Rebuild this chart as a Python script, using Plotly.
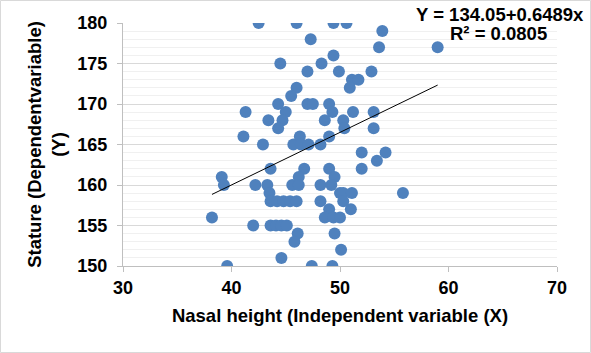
import plotly.graph_objects as go

# Nasal height (X) and stature (Y)
nasal = [42.5, 46.0, 49.4, 50.6,
         53.9,
         47.3,
         53.6, 59.0,
         49.4,
         44.5, 48.3,
         47.0, 49.9, 52.9,
         51.1, 51.7,
         46.0, 50.9,
         45.5,
         44.3, 47.0, 47.5, 49.0,
         41.3, 45.0, 49.3, 51.2, 53.1,
         43.4, 44.7, 48.6, 50.3,
         44.3, 50.4, 53.1,
         41.1, 46.3, 49.0,
         42.9, 45.7, 46.4, 47.1, 48.2,
         52.0, 54.2,
         53.4,
         43.6, 46.7, 49.0, 52.0,
         39.1, 46.2, 49.5,
         39.3, 42.2, 43.3, 45.6, 46.2, 48.2, 49.2,
         43.5, 50.0, 50.3, 51.1, 55.8,
         43.6, 44.2, 44.8, 45.4, 46.0, 48.2, 50.3,
         49.0, 51.0,
         38.2, 48.6, 49.4, 50.0,
         42.0, 43.6, 44.1, 44.6, 45.1,
         46.1, 49.5,
         45.8,
         50.1,
         44.6,
         39.6, 47.4, 49.3]
stature = [180, 180, 180, 180,
           179,
           178,
           177, 177,
           176,
           175, 175,
           174, 174, 174,
           173, 173,
           172, 172,
           171,
           170, 170, 170, 170,
           169, 169, 169, 169, 169,
           168, 168, 168, 168,
           167, 167, 167,
           166, 166, 166,
           165, 165, 165, 165, 165,
           164, 164,
           163,
           162, 162, 162, 162,
           161, 161, 161,
           160, 160, 160, 160, 160, 160, 160,
           159, 159, 159, 159, 159,
           158, 158, 158, 158, 158, 158, 158,
           157, 157,
           156, 156, 156, 156,
           155, 155, 155, 155, 155,
           154, 154,
           153,
           152,
           151,
           150, 150, 150]

# Trendline coefficients as printed on the chart
intercept = 134.05
slope = 0.6489
eq_text = "Y = 134.05+0.6489x"
r2_text = "R² = 0.0805"

x_title = "Nasal height (Independent variable (X)"
y_title = "Stature (Dependentvariable)<br>(Y)"

xmin, xmax = min(nasal), max(nasal)
trend_x = [xmin, xmax]
trend_y = [intercept + slope * v for v in trend_x]

fig = go.Figure()
fig.add_trace(go.Scatter(
    x=nasal, y=stature, mode="markers",
    marker=dict(color="#4F81BD", size=12, line=dict(width=0)),
    showlegend=False, hoverinfo="skip"))
fig.add_trace(go.Scatter(
    x=trend_x, y=trend_y, mode="lines",
    line=dict(color="#000000", width=1),
    showlegend=False, hoverinfo="skip"))

W, H = 591, 353
L, R, T, B = 123, 34, 23, 87
pw, ph = W - L - R, H - T - B

font_b = "Liberation Sans"
tick_size = 18
title_size = 18.5

fig.update_layout(
    width=W, height=H,
    margin=dict(l=L, r=R, t=T, b=B, pad=0),
    paper_bgcolor="white", plot_bgcolor="white",
    font=dict(family=font_b, color="#000000"),
    xaxis=dict(
        range=[30, 70], dtick=10, tick0=30,
        showgrid=False, zeroline=False,
        showline=True, linecolor="#BFBFBF", linewidth=1,
        ticks="outside", tickcolor="#BFBFBF", ticklen=5,
        tickfont=dict(family=font_b, size=tick_size, color="#000000", weight="bold"),
        title=dict(text=x_title, font=dict(family=font_b, size=title_size, weight="bold"), standoff=12),
    ),
    yaxis=dict(
        range=[150, 180], dtick=5, tick0=150,
        showgrid=True, gridcolor="#D9D9D9", gridwidth=1,
        zeroline=False,
        showline=True, linecolor="#BFBFBF", linewidth=1,
        ticks="outside", tickcolor="#BFBFBF", ticklen=5,
        ticklabelstandoff=6,
        tickfont=dict(family=font_b, size=tick_size, color="#000000", weight="bold"),
        minor=dict(dtick=1, showgrid=True, gridcolor="#F0F0F0", gridwidth=1),
        title=dict(text=y_title, font=dict(family=font_b, size=title_size, weight="bold"), standoff=6),
    ),
    shapes=[dict(type="rect", xref="paper", yref="paper",
                 x0=-L / pw + 0.5 / pw, x1=1 + R / pw - 0.5 / pw,
                 y0=-B / ph + 0.5 / ph, y1=1 + T / ph - 0.5 / ph,
                 line=dict(color="#D9D9D9", width=1), layer="below")],
    annotations=[
        dict(text=eq_text, xref="paper", yref="paper",
             x=(500 - L) / pw, y=1 + (T - 14) / ph, xanchor="center", yanchor="middle",
             showarrow=False,
             font=dict(family=font_b, size=title_size, color="#000000", weight="bold")),
        dict(text=r2_text, xref="paper", yref="paper",
             x=(498 - L) / pw, y=1 + (T - 33) / ph, xanchor="center", yanchor="middle",
             showarrow=False,
             font=dict(family=font_b, size=title_size, color="#000000", weight="bold")),
    ],
)

fig.write_html("out.html")
